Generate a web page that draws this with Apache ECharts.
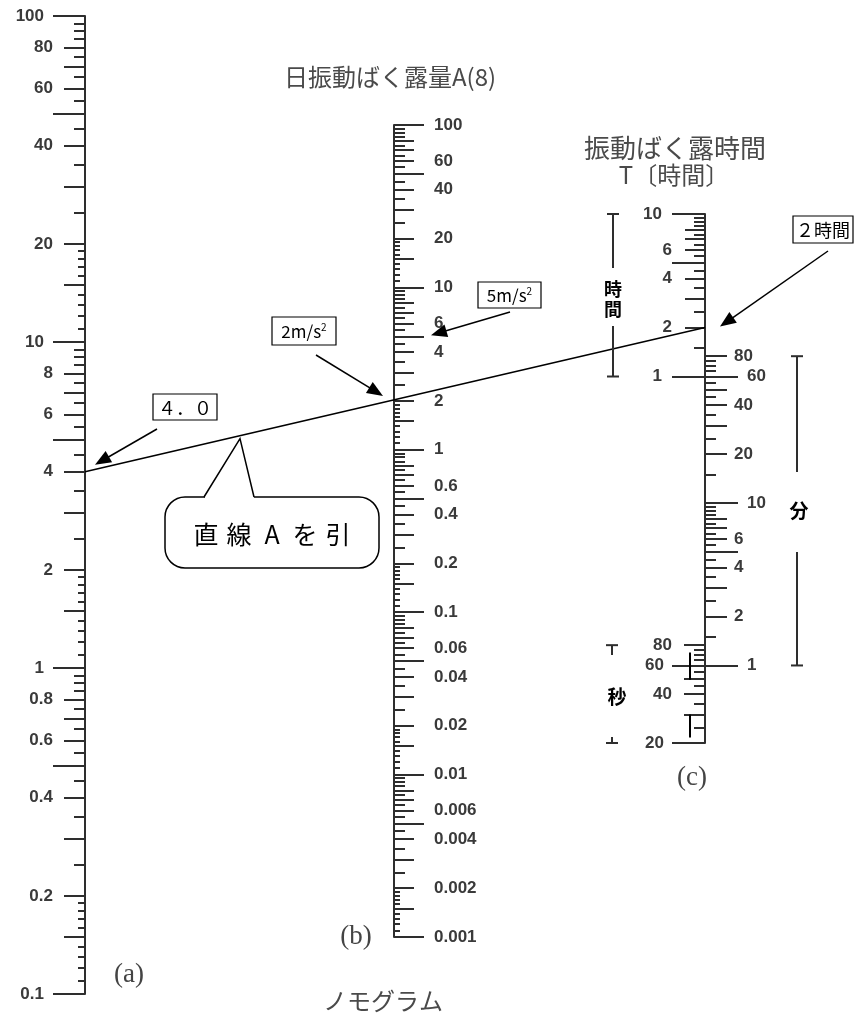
<!DOCTYPE html>
<html>
<head>
<meta charset="utf-8">
<script src="https://cdn.jsdelivr.net/npm/echarts@6.0.0/dist/echarts.min.js"></script>
<style>
html, body { margin: 0; padding: 0; background: #fff; }
#chart { width: 856px; height: 1023px; }
</style>
</head>
<body>
<div id="chart"></div>
<script>
// scale (a): vibration value
var aLabels = [100, 80, 60, 40, 20, 10, 8, 6, 4, 2, 1, 0.8, 0.6, 0.4, 0.2, 0.1];
var aDecadeLabels = [100, 10, 1, 0.1];
// scale (b): daily exposure A(8)
var bLabels = [100, 60, 40, 20, 10, 6, 4, 2, 1, 0.6, 0.4, 0.2, 0.1, 0.06, 0.04, 0.02, 0.01, 0.006, 0.004, 0.002, 0.001];
// scale (c): exposure time, three units on one axis
var hourLabels = [10, 6, 4, 2, 1];
var minuteLabels = [80, 60, 40, 20, 10, 6, 4, 2, 1];
var secondLabels = [80, 60, 40, 20];

// tick mantissas inside one decade, for (a) and (b)
var longMant = [1, 5];
var midMant = [1.5, 2, 3, 4, 6, 7, 8];
var shortMant = [2.5, 3.5, 4.5, 5.5, 6.5, 7.5, 8.5, 9, 9.5];
var fineMant = [1.1, 1.2, 1.3, 1.4, 1.6, 1.7, 1.8, 1.9];

// ticks of scale (c)
var hourLong = [10, 5, 1];
var hourMid = [8, 7, 6, 4, 3, 2];
var hourShort = [9.5, 9, 8.5, 7.5, 6.5, 5.5, 4.5, 3.5, 2.5, 1.5];
var minuteLong = [60, 10, 5, 1];
var minuteMid = [80, 50, 40, 30, 20, 8, 7, 6, 4, 3, 2];
var minuteShort = [75, 70, 65, 55, 45, 35, 25, 15, 9.5, 9, 8.5, 7.5, 6.5, 5.5, 4.5, 3.5, 2.5, 1.5];
var secondLong = [60, 20];
var secondMid = [80, 50, 40, 30];
var secondShort = [75, 70, 65, 55, 45, 35, 25];

// worked example: line A
var exampleA = 4.0;   // (a)
var exampleT = 2;     // hours on (c)
var markB = 5;        // 5 m/s2 on (b)

var INK = '#2e2e2e';
var LBL = '#3a3a3a';
var JP = '"Noto Sans CJK JP", sans-serif';

function decades(mants, lo, hi) {
    var out = [];
    for (var e = lo; e <= hi; e++) {
        mants.forEach(function (m) {
            out.push(parseFloat((m * Math.pow(10, e)).toPrecision(6)));
        });
    }
    return out;
}
function fmt(v) { return String(parseFloat((+v).toPrecision(6))); }
function notIn(list, ex) { return list.filter(function (v) { return ex.indexOf(v) < 0; }); }

function yAx(grid, pos, min, max, ticks, len, labels, margin, line) {
    return {
        type: 'log', logBase: 10, gridIndex: grid, position: pos,
        min: min * 0.99999, max: max * 1.00001,
        axisLine: { show: !!line, onZero: false, lineStyle: { color: INK, width: 2 } },
        axisTick: { show: true, length: len, customValues: ticks, lineStyle: { color: INK, width: 2 } },
        axisLabel: labels ? {
            show: true, customValues: labels, margin: margin, formatter: fmt,
            color: LBL, fontSize: 17, fontWeight: 'bold', fontFamily: '"Liberation Sans", Arial, sans-serif'
        } : { show: false },
        splitLine: { show: false },
        minorTick: { show: false }
    };
}

var grids = [
    { left: 85, top: 16, width: 10, height: 978 },
    { left: 384, top: 125, width: 10, height: 812 },
    { left: 705, top: 214, width: 10, height: 529 },
    { left: 695, top: 214, width: 10, height: 529 }
].map(function (g) { g.containLabel = false; g.outerBoundsMode = 'none'; return g; });

var hMin = 20 / 3600, hMax = 10;
var yAxes = [
    // (a) 0-3
    yAx(0, 'left', 0.1, 100, decades(longMant, -1, 2), 32, aDecadeLabels, 41, true),
    yAx(0, 'left', 0.1, 100, decades(midMant, -1, 1), 21, notIn(aLabels, aDecadeLabels), 32),
    yAx(0, 'left', 0.1, 100, decades(shortMant, -1, 1), 11),
    yAx(0, 'left', 0.1, 100, decades(fineMant, -1, 1), 7),
    // (b) 4-7
    yAx(1, 'right', 0.001, 100, decades(longMant, -3, 2), 30, null, 0, true),
    yAx(1, 'right', 0.001, 100, decades(midMant, -3, 1), 20, bLabels, 40),
    yAx(1, 'right', 0.001, 100, decades(shortMant, -3, 1), 11),
    yAx(1, 'right', 0.001, 100, decades(fineMant, -3, 1), 6),
    // (c) hours 8-10
    yAx(2, 'left', hMin, hMax, hourLong, 33, [10, 1], 43, true),
    yAx(2, 'left', hMin, hMax, hourMid, 20, notIn(hourLabels, [10, 1]), 33),
    yAx(2, 'left', hMin, hMax, hourShort, 11),
    // (c) seconds 11-13
    yAx(2, 'left', hMin * 3600, hMax * 3600, secondLong, 33, [60, 20], 41),
    yAx(2, 'left', hMin * 3600, hMax * 3600, secondMid, 21, notIn(secondLabels, [60, 20]), 33),
    yAx(2, 'left', hMin * 3600, hMax * 3600, secondShort, 11),
    // (c) minutes 14-16
    yAx(3, 'right', hMin * 60, hMax * 60, minuteLong, 33, [60, 10, 1], 42),
    yAx(3, 'right', hMin * 60, hMax * 60, minuteMid, 22, notIn(minuteLabels, [60, 10, 1]), 29),
    yAx(3, 'right', hMin * 60, hMax * 60, minuteShort, 11)
];

var chart = echarts.init(document.getElementById('chart'));
chart.setOption({
    animation: false,
    backgroundColor: '#fff',
    grid: grids,
    xAxis: [0, 1, 2, 3].map(function (i) {
        return { type: 'value', gridIndex: i, min: 0, max: 1, show: false };
    }),
    yAxis: yAxes,
    series: []
});

// positions of the worked example, read back from the axes
function yPix(ax, v) { return chart.convertToPixel({ yAxisIndex: ax }, v); }
function xPix(ax, v) { return chart.convertToPixel({ xAxisIndex: ax }, v); }
var xa = xPix(0, 0), xb = xPix(1, 1), xc = xPix(2, 0);
var ya = yPix(0, exampleA), yc = yPix(8, exampleT);
function lineY(x) { return ya + (yc - ya) * (x - xa) / (xc - xa); }
var yb = lineY(xb);
var yb5 = yPix(5, markB);

function txt(x, y, s, size, extra) {
    var st = {
        text: s, fontSize: size, fontFamily: JP, fill: '#000',
        align: 'center', verticalAlign: 'middle', textAlign: 'center', textVerticalAlign: 'middle'
    };
    for (var k in extra) st[k] = extra[k];
    return { type: 'text', x: x, y: y, style: st, z: 20 };
}
function seg(x1, y1, x2, y2, w, col) {
    return { type: 'line', shape: { x1: x1, y1: y1, x2: x2, y2: y2 }, style: { stroke: col || '#000', lineWidth: w || 1.5 }, z: 15 };
}
function arrow(x1, y1, x2, y2) {
    var dx = x2 - x1, dy = y2 - y1, L = Math.sqrt(dx * dx + dy * dy), ux = dx / L, uy = dy / L;
    var hl = 16, hw = 6.5, bx = x2 - ux * hl, by = y2 - uy * hl;
    return [
        seg(x1, y1, bx + ux * 2, by + uy * 2, 1.5),
        { type: 'polygon', shape: { points: [[x2, y2], [bx - uy * hw, by + ux * hw], [bx + uy * hw, by - ux * hw]] }, style: { fill: '#000' }, z: 16 }
    ];
}
function box(x, y, w, h, s, size) {
    return [
        { type: 'rect', shape: { x: x, y: y, width: w, height: h }, style: { fill: '#fff', stroke: '#000', lineWidth: 1.2 }, z: 14 },
        txt(x + w / 2, y + h / 2 + 1, s, size, {
            rich: { s: { fontSize: 10, fontFamily: JP, fill: '#000', padding: [0, 0, 9, 0] } }
        })
    ];
}
function bracket(x, y1, y2, gapTop, gapBot) {
    return [
        seg(x, y1, x, y2, 2, INK),
        seg(x - 6, y1, x + 6, y1, 2, INK),
        seg(x - 6, y2, x + 6, y2, 2, INK),
        { type: 'rect', shape: { x: x - 14, y: gapTop, width: 28, height: gapBot - gapTop }, style: { fill: '#fff' }, z: 16 }
    ];
}

var g = [];
// line A
g.push(seg(xa, ya, xc, yc, 1.6));
// callout bubble
var tipX = 240, tipY = lineY(tipX) + 3;
g.push({ type: 'rect', shape: { x: 165, y: 497, width: 214, height: 71, r: 20 }, style: { fill: '#fff', stroke: '#000', lineWidth: 1.5 }, z: 14 });
g.push(seg(205, 497, 254, 497, 3, '#fff'));
g.push({ type: 'polyline', shape: { points: [[204, 497], [tipX, tipY], [254, 497]] }, style: { stroke: '#000', lineWidth: 1.5, fill: null }, z: 15 });
['直', '線', 'A', 'を', '引'].forEach(function (c, i) { g.push(txt(206 + i * 33, 534, c, 25)); });
// boxed notes with arrows
g = g.concat(box(153, 394, 64, 26, '４．０', 18), arrow(157, 429, xa + 10, ya - 7));
g = g.concat(box(272, 317, 64, 28, '2m/s{s|2}', 17), arrow(316, 355, xb - 11, yb - 4));
g = g.concat(box(478, 282, 63, 26, '5m/s{s|2}', 17), arrow(510, 312, xb + 37, yb5 - 1));
g = g.concat(box(793, 216, 60, 27, '２時間', 18), arrow(828, 251, xc + 15, yc - 1));
// unit brackets of (c)
g = g.concat(bracket(613, yPix(8, 10), yPix(8, 1), 268, 326));
g.push(txt(613, 289, '時', 18, { fontWeight: 'bold' }), txt(613, 309, '間', 18, { fontWeight: 'bold' }));
g = g.concat(bracket(797, yPix(14, 80), yPix(14, 1), 472, 552));
g.push(txt(799, 511, '分', 19, { fontWeight: 'bold' }));
g = g.concat(bracket(612, yPix(11, 80), yPix(11, 20), 655, 737));
g.push(txt(617, 697, '秒', 19, { fontWeight: 'bold' }));
g.push(seg(690, yPix(11, 72), 690, yPix(11, 49), 2, '#000'), seg(690, yPix(11, 30), 690, yPix(11, 21.6), 2, '#000'));
// titles
var grey = { fill: '#4a4a4a' };
g.push(txt(390, 77, '日振動ばく露量A(8)', 24, grey));
g.push(txt(675, 148, '振動ばく露時間', 26, grey));
g.push(txt(674, 175, 'T〔時間〕', 24, grey));
g.push(txt(383, 1001, 'ノモグラム', 24, grey));
var serif = { fill: '#444', fontFamily: '"Liberation Serif", serif' };
g.push(txt(129, 975, '(a)', 27, serif), txt(356, 937, '(b)', 27, serif), txt(692, 778, '(c)', 27, serif));

chart.setOption({ graphic: { elements: g } });
</script>
</body>
</html>
